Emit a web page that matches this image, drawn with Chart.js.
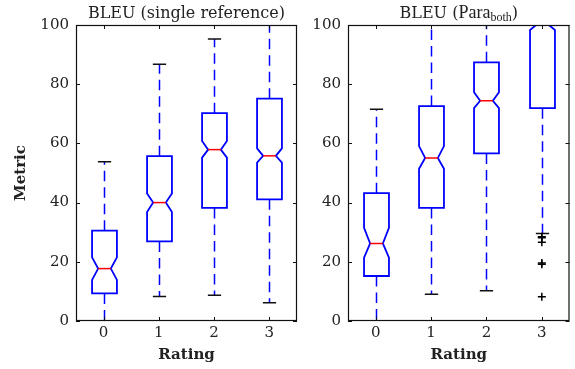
<!DOCTYPE html>
<html>
<head>
<meta charset="utf-8">
<script src="https://cdn.jsdelivr.net/npm/chart.js@4/dist/chart.umd.min.js"></script>
<style>
  body { margin: 0; background: #fff; }
  #wrap { position: relative; width: 575px; height: 369px; }
  canvas { position: absolute; top: 0; }
</style>
</head>
<body>
<div id="wrap">
  <canvas id="graficoSingle" width="300" height="369" style="left:0"></canvas>
  <canvas id="graficoPara" width="275" height="369" style="left:300px"></canvas>
</div>
<script>
// Dados (BLEU por rating)
const ratings = ['0', '1', '2', '3'];
const yTicks = [0, 20, 40, 60, 80, 100];

// painel esquerdo: BLEU (single reference)
const singleLow = [0, 8.3, 8.7, 6.2];
const singleQ1 = [9.3, 26.9, 38.2, 41.1];
const singleMed = [17.7, 40.0, 57.9, 55.8];
const singleQ3 = [30.5, 55.7, 70.2, 75.1];
const singleHigh = [53.8, 86.7, 95.3, 100];
const singleNotchLo = [13.9, 36.8, 55.2, 53.5];
const singleNotchHi = [21.5, 43.1, 60.8, 58.3];

// painel direito: BLEU (Para_both)
const paraLow = [0, 9.0, 10.2, 29.6];
const paraQ1 = [15.2, 38.2, 56.6, 71.9];
const paraMed = [26.2, 55.1, 74.4, 100];
const paraQ3 = [43.2, 72.6, 87.4, 100];
const paraHigh = [71.5, 100, 100, 100];
const paraNotchLo = [21.4, 51.4, 71.9, 98.3];
const paraNotchHi = [31.5, 59.1, 77.3, 101.7];
const paraOutliers3 = [28.5, 28.1, 26.6, 19.6, 19.2, 8.2];

const serif = '"DejaVu Serif", serif';

function boxplotPlugin(st, titleParts) {
    return {
        id: 'boxplot',
        beforeDatasetsDraw(chart) {
            const {ctx, chartArea: a, scales: {x, y}} = chart;
            const step = x.getPixelForValue(1) - x.getPixelForValue(0);
            const hw = step * 0.225, nw = step * 0.115, cw = step * 0.12;
            const py = v => y.getPixelForValue(v);
            ctx.save();
            ctx.beginPath();
            ctx.rect(a.left, a.top, a.right - a.left, a.bottom - a.top);
            ctx.clip();
            st.med.forEach((m, i) => {
                const cx = Math.round(x.getPixelForValue(i)) + 0.5;
                // bigodes tracejados
                ctx.strokeStyle = '#0000ff';
                ctx.lineWidth = 1.5;
                ctx.setLineDash([10.5, 6]);
                ctx.beginPath();
                ctx.moveTo(cx, py(st.q1[i])); ctx.lineTo(cx, py(st.low[i]));
                ctx.moveTo(cx, py(st.q3[i])); ctx.lineTo(cx, py(st.high[i]));
                ctx.stroke();
                ctx.setLineDash([]);
                // caps
                ctx.strokeStyle = '#111';
                ctx.beginPath();
                ctx.moveTo(cx - cw, py(st.low[i])); ctx.lineTo(cx + cw, py(st.low[i]));
                ctx.moveTo(cx - cw, py(st.high[i])); ctx.lineTo(cx + cw, py(st.high[i]));
                ctx.stroke();
                // caixa com entalhe
                ctx.strokeStyle = '#0000ff';
                ctx.lineWidth = 1.8;
                ctx.beginPath();
                ctx.moveTo(cx - hw, py(st.q1[i]));
                ctx.lineTo(cx + hw, py(st.q1[i]));
                ctx.lineTo(cx + hw, py(st.nlo[i]));
                ctx.lineTo(cx + nw, py(m));
                ctx.lineTo(cx + hw, py(st.nhi[i]));
                ctx.lineTo(cx + hw, py(st.q3[i]));
                ctx.lineTo(cx - hw, py(st.q3[i]));
                ctx.lineTo(cx - hw, py(st.nhi[i]));
                ctx.lineTo(cx - nw, py(m));
                ctx.lineTo(cx - hw, py(st.nlo[i]));
                ctx.closePath();
                ctx.stroke();
                // mediana
                ctx.strokeStyle = '#ff0000';
                ctx.lineWidth = 1.5;
                ctx.beginPath();
                ctx.moveTo(cx - nw, py(m)); ctx.lineTo(cx + nw, py(m));
                ctx.stroke();
            });
            ctx.restore();
        },
        afterDraw(chart) {
            const {ctx, chartArea: a, scales: {x, y}} = chart;
            ctx.save();
            ctx.strokeStyle = '#111';
            ctx.lineWidth = 1.2;
            ctx.strokeRect(a.left + 0.5, a.top + 0.5, a.right - a.left - 1, a.bottom - a.top - 1);
            // marcas para dentro
            ctx.lineWidth = 1;
            ctx.beginPath();
            yTicks.forEach(v => {
                const yy = Math.round(y.getPixelForValue(v)) + 0.5;
                ctx.moveTo(a.left, yy); ctx.lineTo(a.left + 4, yy);
                ctx.moveTo(a.right, yy); ctx.lineTo(a.right - 4, yy);
            });
            ratings.forEach((r, i) => {
                const xx = Math.round(x.getPixelForValue(i)) + 0.5;
                ctx.moveTo(xx, a.bottom); ctx.lineTo(xx, a.bottom - 4);
                ctx.moveTo(xx, a.top); ctx.lineTo(xx, a.top + 4);
            });
            ctx.stroke();
            // título
            ctx.fillStyle = '#222';
            ctx.textBaseline = 'alphabetic';
            ctx.textAlign = 'left';
            let total = 0;
            titleParts.forEach(p => { ctx.font = p.font; total += ctx.measureText(p.text).width; });
            let tx = (a.left + a.right) / 2 - total / 2;
            titleParts.forEach(p => {
                ctx.font = p.font;
                ctx.fillText(p.text, tx, 18 + (p.dy || 0));
                tx += ctx.measureText(p.text).width;
            });
            ctx.restore();
        }
    };
}

function makeChart(id, st, outliers, titleParts, opts) {
    const ctx = document.getElementById(id).getContext('2d');
    return new Chart(ctx, {
        type: 'scatter',
        data: {
            labels: ratings,
            datasets: [{
                data: outliers,
                pointStyle: 'cross',
                radius: 4,
                borderWidth: 1.5,
                borderColor: '#000',
                backgroundColor: '#000'
            }]
        },
        options: {
            responsive: false,
            animation: false,
            layout: { padding: { top: 25, right: opts.right, left: 0, bottom: 0 } },
            plugins: { legend: { display: false }, tooltip: { enabled: false } },
            scales: {
                x: {
                    type: 'category',
                    labels: ratings,
                    offset: true,
                    grid: { display: false, drawTicks: false },
                    border: { display: false },
                    ticks: { color: '#222', font: { family: serif, size: 15 }, padding: 3 },
                    title: { display: true, text: 'Rating', color: '#222',
                             font: { family: serif, size: 15, weight: 'bold' }, padding: { top: 0, bottom: 5 } },
                    afterFit: s => { s.height = 48; }
                },
                y: {
                    min: 0,
                    max: 100,
                    ticks: { stepSize: 20, color: '#222', font: { family: serif, size: 15 }, padding: 7 },
                    grid: { display: false, drawTicks: false },
                    border: { display: false },
                    title: { display: opts.yTitle, text: 'Metric', color: '#222',
                             font: { family: serif, size: 15, weight: 'bold' }, padding: { top: 12, bottom: 0 } },
                    afterFit: s => { s.width = opts.yWidth; }
                }
            }
        },
        plugins: [boxplotPlugin(st, titleParts)]
    });
}

makeChart('graficoSingle',
    { low: singleLow, q1: singleQ1, med: singleMed, q3: singleQ3, high: singleHigh, nlo: singleNotchLo, nhi: singleNotchHi },
    [],
    [{ text: 'BLEU (single reference)', font: '16px ' + serif }],
    { right: 3, yWidth: 76, yTitle: true });

makeChart('graficoPara',
    { low: paraLow, q1: paraQ1, med: paraMed, q3: paraQ3, high: paraHigh, nlo: paraNotchLo, nhi: paraNotchHi },
    paraOutliers3.map(v => ({ x: '3', y: v })),
    [
        { text: 'BLEU (', font: '16px ' + serif },
        { text: 'Para', font: '18px "Liberation Serif", serif' },
        { text: 'both', font: '12px "Liberation Serif", serif', dy: 3 },
        { text: ')', font: '16px ' + serif }
    ],
    { right: 5, yWidth: 48, yTitle: false });
</script>
</body>
</html>
